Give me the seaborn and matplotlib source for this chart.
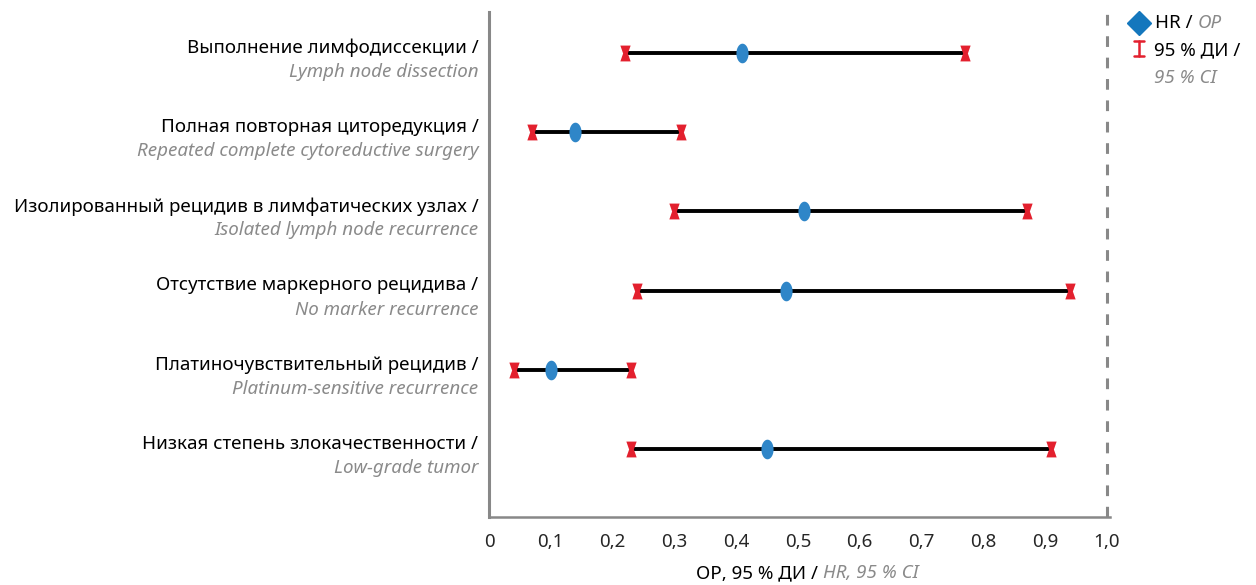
import numpy as np
import pandas as pd
import matplotlib
matplotlib.use("Agg")
import matplotlib.pyplot as plt
import matplotlib.transforms as mtrans
from matplotlib.lines import Line2D
from matplotlib.path import Path
import seaborn as sns

labels_ru = ["Выполнение лимфодиссекции /",
             "Полная повторная циторедукция /",
             "Изолированный рецидив в лимфатических узлах /",
             "Отсутствие маркерного рецидива /",
             "Платиночувствительный рецидив /",
             "Низкая степень злокачественности /"]
labels_en = ["Lymph node dissection",
             "Repeated complete cytoreductive surgery",
             "Isolated lymph node recurrence",
             "No marker recurrence",
             "Platinum-sensitive recurrence",
             "Low-grade tumor"]
hr = [0.41, 0.14, 0.51, 0.48, 0.10, 0.45]
ci_low = [0.22, 0.07, 0.30, 0.24, 0.04, 0.23]
ci_high = [0.77, 0.31, 0.87, 0.94, 0.23, 0.91]
xticks = [0, 0.1, 0.2, 0.3, 0.4, 0.5, 0.6, 0.7, 0.8, 0.9, 1.0]
xtick_labels = ["0", "0,1", "0,2", "0,3", "0,4", "0,5", "0,6", "0,7", "0,8", "0,9", "1,0"]

sns.set_style("white")
plt.rcParams['font.family'] = ['Noto Sans', 'DejaVu Sans']

df = pd.DataFrame({"row": np.arange(len(hr)), "hr": hr, "lo": ci_low, "hi": ci_high})

fig = plt.figure(figsize=(12.56, 5.85), dpi=100)
ax = fig.add_axes([0.3893, 0.1162, 0.4945, 0.8633])

BLUE = "#2f86c8"
RED = "#e3202e"
GRAY = "#888888"
LGRAY = "#8a8a8a"
FS = 13.5

t = np.linspace(0, 2 * np.pi, 40)
ell = Path(np.column_stack([0.62 * np.cos(t), np.sin(t)]))
hourglass = Path([(-0.65, 1), (0.65, 1), (0.3, 0), (0.65, -1), (-0.65, -1), (-0.3, 0), (-0.65, 1)],
                 [Path.MOVETO] + [Path.LINETO] * 5 + [Path.CLOSEPOLY])

ax.axvline(1.0, color=GRAY, lw=2.2, ls=(0, (3.5, 3.5)), zorder=1)
ax.hlines(df["row"], df["lo"], df["hi"], color="black", lw=2.8, zorder=2)
sns.scatterplot(data=df, x="lo", y="row", ax=ax, marker=hourglass, s=130,
                color=RED, edgecolor=RED, linewidth=0, zorder=3, legend=False)
sns.scatterplot(data=df, x="hi", y="row", ax=ax, marker=hourglass, s=130,
                color=RED, edgecolor=RED, linewidth=0, zorder=3, legend=False)
sns.scatterplot(data=df, x="hr", y="row", ax=ax, marker=ell, s=200,
                color=BLUE, edgecolor=BLUE, linewidth=0, zorder=4, legend=False)

ax.set_xlim(0, 1.005)
ax.set_ylim(5.86, -0.52)
ax.set_xticks(xticks)
ax.set_xticklabels(xtick_labels, fontsize=FS)
ax.set_yticks([])
ax.set_xlabel("")
ax.set_ylabel("")
for s in ["top", "right"]:
    ax.spines[s].set_visible(False)
ax.spines["left"].set_color(GRAY)
ax.spines["left"].set_linewidth(2.2)
ax.spines["bottom"].set_color(GRAY)
ax.spines["bottom"].set_linewidth(1.8)
ax.tick_params(axis="x", direction="inout", length=9, width=1.2, color="#aaaaaa", pad=7)

trans = mtrans.blended_transform_factory(ax.transAxes, ax.transData)
for i in range(len(hr)):
    ax.text(-0.017, i - 0.065, labels_ru[i], transform=trans, ha="right", va="center",
            fontsize=FS, color="black")
    ax.text(-0.017, i + 0.24, labels_en[i], transform=trans, ha="right", va="center",
            fontsize=FS, color=LGRAY, style="italic")

fig.canvas.draw()
r = fig.canvas.get_renderer()


def mixed(x_px, y_px, parts, fs=FS, draw=True):
    x = x_px
    made = []
    for s, c, st in parts:
        tt = fig.text(x / 1256, 1 - y_px / 585, s, color=c, style=st, fontsize=fs,
                      va="center", ha="left")
        x += tt.get_window_extent(renderer=r).width
        made.append(tt)
    if not draw:
        for tt in made:
            tt.remove()
    return x - x_px


xl_parts = [("ОР, 95 % ДИ / ", "black", "normal"), ("HR, 95 % CI", LGRAY, "italic")]
w = mixed(0, 573, xl_parts, draw=False)
mixed(807 - w / 2, 573, xl_parts)

# legend
fig.lines.append(Line2D([1139 / 1256], [1 - 23 / 585], transform=fig.transFigure,
                        marker="D", markersize=12, color="#1477bd", linestyle="none"))
fig.lines.append(Line2D([1139 / 1256] * 2, [1 - 41 / 585, 1 - 56 / 585],
                        transform=fig.transFigure, color=RED, lw=1.8))
for yy in [41, 56]:
    fig.lines.append(Line2D([1134 / 1256, 1144 / 1256], [1 - yy / 585] * 2,
                            transform=fig.transFigure, color=RED, lw=1.8))
mixed(1155, 23, [("HR / ", "black", "normal"), ("OP", LGRAY, "italic")])
mixed(1154, 50, [("95 % ДИ /", "black", "normal")])
mixed(1154, 78, [("95 % CI", LGRAY, "italic")])

fig.savefig("out.png", dpi=100)
